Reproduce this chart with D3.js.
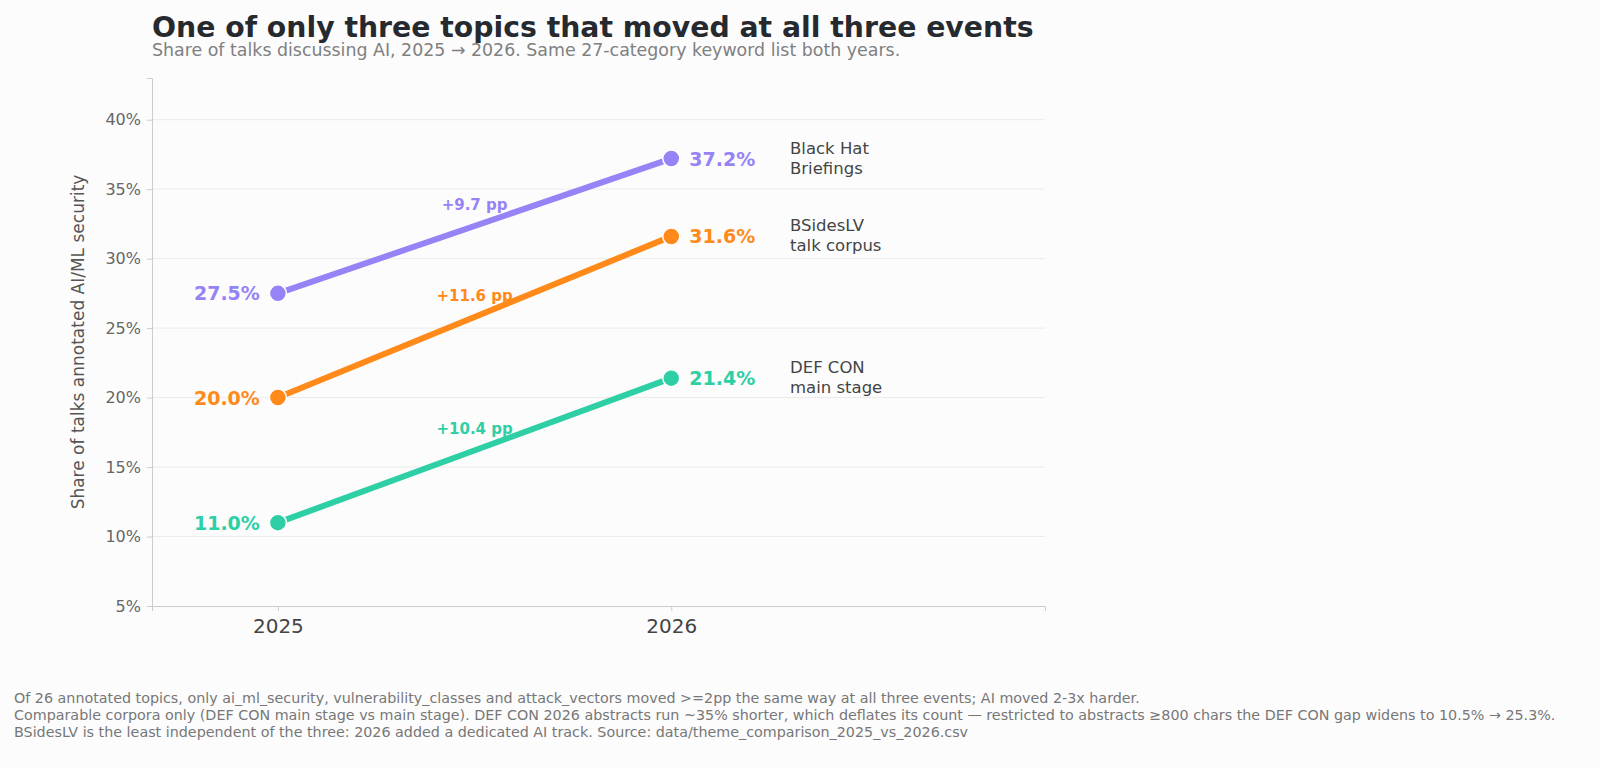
<!DOCTYPE html>
<html>
<head>
<meta charset="utf-8">
<script src="https://cdn.jsdelivr.net/npm/d3@7"></script>
<style>
body { margin: 0; background: #fcfcfd; font-family: "DejaVu Sans", sans-serif; }
</style>
</head>
<body>
<svg width="1600" height="768"></svg>
<script>
// Data
var years = ["2025", "2026"];
var events = ["Black Hat\nBriefings", "BSidesLV\ntalk corpus", "DEF CON\nmain stage"];
var values2025 = [27.5, 20.0, 11.0];
var values2026 = [37.2, 31.6, 21.4];
var colors = ["#9683f5", "#ff8a1a", "#2ecfa4"];
var yTicks = [5, 10, 15, 20, 25, 30, 35, 40];
var footnotes = [
	"Of 26 annotated topics, only ai_ml_security, vulnerability_classes and attack_vectors moved >=2pp the same way at all three events; AI moved 2-3x harder.",
	"Comparable corpora only (DEF CON main stage vs main stage). DEF CON 2026 abstracts run ~35% shorter, which deflates its count \u2014 restricted to abstracts \u2265800 chars the DEF CON gap widens to 10.5% \u2192 25.3%.",
	"BSidesLV is the least independent of the three: 2026 added a dedicated AI track. Source: data/theme_comparison_2025_vs_2026.csv"
];

var svg = d3.select("svg");
var plotLeft = 152, plotRight = 1045, plotTop = 78, plotBottom = 606;

var x = d3.scaleLinear().domain([-0.32, 1.95]).range([plotLeft, plotRight]);
var y = d3.scaleLinear().domain([5, 43]).range([plotBottom, plotTop]);

// Title
svg.append("text").attr("x", 152).attr("y", 37)
	.attr("font-size", 28.3).attr("font-weight", "bold").attr("fill", "#262a2e")
	.text("One of only three topics that moved at all three events");
svg.append("text").attr("x", 152).attr("y", 56)
	.attr("font-size", 17.4).attr("fill", "#808080")
	.text("Share of talks discussing AI, 2025 \u2192 2026. Same 27-category keyword list both years.");

// Grid
svg.append("g").selectAll("line").data(yTicks.slice(1)).enter().append("line")
	.attr("x1", plotLeft).attr("x2", plotRight)
	.attr("y1", d => y(d)).attr("y2", d => y(d))
	.attr("stroke", "#ebebeb").attr("stroke-width", 1);

// Axes
var yAxis = svg.append("g").attr("transform", "translate(" + plotLeft + ",0)")
	.call(d3.axisLeft(y).tickValues(yTicks).tickFormat(d => d + "%").tickSize(5).tickPadding(6));
var xAxis = svg.append("g").attr("transform", "translate(0," + plotBottom + ")")
	.call(d3.axisBottom(x).tickValues([0, 1]).tickFormat(d => years[d]).tickSize(5).tickPadding(8));
[yAxis, xAxis].forEach(a => {
	a.select(".domain").attr("stroke", "#cccccc");
	a.selectAll(".tick line").attr("stroke", "#cccccc");
	a.selectAll("text").attr("fill", "#666").attr("font-family", "DejaVu Sans");
});
yAxis.selectAll("text").attr("font-size", 16);
xAxis.selectAll("text").attr("font-size", 20).attr("fill", "#444");

svg.append("text")
	.attr("transform", "translate(84," + ((plotTop + plotBottom) / 2) + ") rotate(-90)")
	.attr("text-anchor", "middle").attr("font-size", 17).attr("fill", "#555")
	.text("Share of talks annotated AI/ML security");

// Delta labels (under lines)
events.forEach((e, i) => {
	var mid = (values2025[i] + values2026[i]) / 2;
	svg.append("text").attr("x", x(0.5)).attr("y", y(mid) - 16)
		.attr("text-anchor", "middle").attr("font-size", 15).attr("font-weight", "bold")
		.attr("fill", colors[i])
		.text("+" + (values2026[i] - values2025[i]).toFixed(1) + " pp");
});

// Lines and points
events.forEach((e, i) => {
	var pts = [[0, values2025[i]], [1, values2026[i]]];
	svg.append("path").datum(pts)
		.attr("d", d3.line().x(d => x(d[0])).y(d => y(d[1])))
		.attr("stroke", colors[i]).attr("stroke-width", 6).attr("fill", "none");
	svg.selectAll(null).data(pts).enter().append("circle")
		.attr("cx", d => x(d[0])).attr("cy", d => y(d[1])).attr("r", 8.5)
		.attr("fill", colors[i]).attr("stroke", "#fff").attr("stroke-width", 1.5);
	svg.append("text").attr("x", x(0) - 18).attr("y", y(values2025[i]) + 7)
		.attr("text-anchor", "end").attr("font-size", 19).attr("font-weight", "bold")
		.attr("fill", colors[i]).text(values2025[i].toFixed(1) + "%");
	svg.append("text").attr("x", x(1) + 18).attr("y", y(values2026[i]) + 7)
		.attr("font-size", 19).attr("font-weight", "bold")
		.attr("fill", colors[i]).text(values2026[i].toFixed(1) + "%");
	var t = svg.append("text").attr("x", 790).attr("y", y(values2026[i]) - 5)
		.attr("font-size", 16.5).attr("fill", "#444");
	e.split("\n").forEach((ln, k) => {
		t.append("tspan").attr("x", 790).attr("dy", k ? 20 : 0).text(ln);
	});
});

// Footnotes
svg.selectAll(null).data(footnotes).enter().append("text")
	.attr("x", 14).attr("y", (d, i) => 703 + i * 17)
	.attr("font-size", 14.3).attr("fill", "#777").text(d => d);
</script>
</body>
</html>
